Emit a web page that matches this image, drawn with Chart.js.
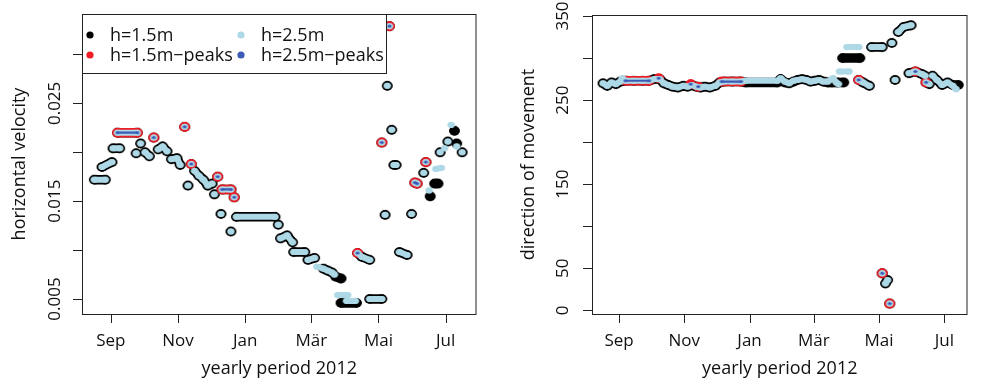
<!DOCTYPE html>
<html>
<head>
<meta charset="utf-8">
<script src="https://cdn.jsdelivr.net/npm/chart.js@4/dist/chart.umd.min.js"></script>
<style>
  body { margin: 0; background: #fff; }
  #wrap { position: relative; width: 981px; height: 382px; overflow: hidden; }
  .panel { position: absolute; top: 0; }
</style>
</head>
<body>
<div id="wrap">
  <div class="panel" style="left:0"><canvas id="chart-1" width="490" height="382"></canvas></div>
  <div class="panel" style="left:500px"><canvas id="chart-2" width="481" height="382"></canvas></div>
</div>
<script>
// x = days since 1 Sep 2011
const monthTicks = [0, 61, 122, 182, 243, 304];
const monthLabels = ["Sep", "Nov", "Jan", "Mär", "Mai", "Jul"];

const velTicks = [0.005, 0.01, 0.015, 0.02, 0.025, 0.03];
const velLabels = ["0.005", "", "0.015", "", "0.025", ""];
const dirTicks = [0, 50, 100, 150, 200, 250, 300, 350];
const dirLabels = ["0", "50", "", "150", "", "250", "", "350"];

const seriesNames = ["h=1.5m", "h=1.5m\u2212peaks", "h=2.5m", "h=2.5m\u2212peaks"];

// horizontal velocity, [day, value], null = gap
const vel15 = [
  [-15, 0.0172], [-5, 0.0172], null,
  [-8, 0.0185], [1, 0.019], null,
  [2, 0.0204], [8, 0.0204], null,
  [6, 0.022], [24, 0.022], null,
  [23, 0.0199], null,
  [27, 0.0209], null,
  [31, 0.02], [35, 0.0196], null,
  [39, 0.0215], null,
  [43, 0.0203], [47, 0.0206], [51, 0.0201], null,
  [55, 0.0193], [60, 0.0194], [63, 0.0187], null,
  [67, 0.0226], null,
  [70, 0.0166], null,
  [73, 0.0188], null,
  [76, 0.0181], [80, 0.0176], [84, 0.0172], [88, 0.0166], [92, 0.0168], null,
  [94, 0.0157], null,
  [97, 0.0175], null,
  [100, 0.0137], null,
  [101, 0.0162], [109, 0.0162], null,
  [109, 0.0119], null,
  [112, 0.0154], null,
  [114, 0.0134], [149, 0.0134], null,
  [152, 0.0126], null,
  [154, 0.0112], [160, 0.0115], [165, 0.0108], null,
  [166, 0.0098], [176, 0.0098], null,
  [179, 0.009], [185, 0.0092], null,
  [193, 0.0081], [197, 0.0079], [201, 0.0077], null,
  [204, 0.0073], [209, 0.0071], null,
  [209, 0.0046], [223, 0.0046], null,
  [224, 0.0097], [228, 0.0093], [235, 0.009], null,
  [235, 0.005], [246, 0.005], null,
  [246, 0.021], null,
  [249, 0.0136], null,
  [251, 0.0268], null,
  [253, 0.0329], null,
  [255, 0.0223], null,
  [257, 0.0187], [259, 0.0187], null,
  [262, 0.0098], [269, 0.0095], null,
  [273, 0.0137], null,
  [276, 0.0169], [278, 0.0168], null,
  [284, 0.0179], null,
  [286, 0.019], null,
  [290, 0.0155], null,
  [294, 0.0168], [297, 0.0168], null,
  [299, 0.02], null,
  [306, 0.0211], null,
  [312, 0.0222], null,
  [314, 0.0209], null,
  [319, 0.02]
];
const vel25 = [
  [-15, 0.0172], [-5, 0.0172], null,
  [-8, 0.0185], [1, 0.019], null,
  [2, 0.0204], [8, 0.0204], null,
  [6, 0.022], [24, 0.022], null,
  [23, 0.0199], null,
  [27, 0.0209], null,
  [31, 0.02], [35, 0.0196], null,
  [39, 0.0215], null,
  [43, 0.0203], [47, 0.0206], [51, 0.0201], null,
  [55, 0.0193], [60, 0.0194], [63, 0.0187], null,
  [67, 0.0226], null,
  [70, 0.0166], null,
  [73, 0.0188], null,
  [76, 0.0181], [80, 0.0176], [84, 0.0172], [88, 0.0166], [92, 0.0168], null,
  [94, 0.0157], null,
  [97, 0.0175], null,
  [100, 0.0137], null,
  [101, 0.0162], [109, 0.0162], null,
  [109, 0.0119], null,
  [112, 0.0154], null,
  [114, 0.0134], [149, 0.0134], null,
  [152, 0.0126], null,
  [154, 0.0112], [160, 0.0115], [165, 0.0108], null,
  [166, 0.0098], [176, 0.0098], null,
  [179, 0.009], [185, 0.0092], null,
  [187, 0.0083], [193, 0.0081], [197, 0.0079], [201, 0.0077], null,
  [203, 0.0075], null,
  [206, 0.0054], [215, 0.0054], null,
  [214, 0.0048], [222, 0.0048], null,
  [224, 0.0097], [228, 0.0093], [235, 0.009], null,
  [235, 0.005], [246, 0.005], null,
  [246, 0.021], null,
  [249, 0.0136], null,
  [251, 0.0268], null,
  [253, 0.0329], null,
  [255, 0.0223], null,
  [257, 0.0187], [259, 0.0187], null,
  [262, 0.0098], [269, 0.0095], null,
  [273, 0.0137], null,
  [276, 0.0169], [278, 0.0168], null,
  [284, 0.0179], null,
  [286, 0.019], null,
  [289, 0.0161], null,
  [295, 0.0183], [300, 0.0184], null,
  [299, 0.02], null,
  [303, 0.0204], null,
  [306, 0.0211], null,
  [309, 0.0228], null,
  [314, 0.0206], null,
  [319, 0.02]
];
const velPeaks15 = [
  [6, 0.022], [24, 0.022], null,
  [39, 0.0215], null,
  [67, 0.0226], null,
  [73, 0.0188], null,
  [97, 0.0175], null,
  [101, 0.0162], [109, 0.0162], null,
  [112, 0.0154], null,
  [224, 0.0097], null,
  [246, 0.021], null,
  [253, 0.0329], null,
  [276, 0.0169], [278, 0.0168], null,
  [286, 0.019]
];
const velPeaks25 = [
  [6, 0.022], [24, 0.022], null,
  [39, 0.0215], null,
  [67, 0.0226], null,
  [73, 0.0188], null,
  [97, 0.0175], null,
  [101, 0.0162], [109, 0.0162], null,
  [112, 0.0154], null,
  [224, 0.0097], null,
  [246, 0.021], null,
  [253, 0.0329], null,
  [276, 0.0169], [278, 0.0168], null,
  [286, 0.019]
];

// direction of movement
const dir15 = [
  [-15, 270], [-11, 267], [-7, 271], [-3, 269], [1, 272], [6, 273], [14, 273], [22, 273], [28, 273],
  [33, 275], [38, 275], [42, 270], [46, 268], [50, 266], [55, 265], [60, 267], [64, 266], [68, 268],
  [72, 266], [76, 265], [80, 266], [85, 265], [90, 267], [94, 271], [98, 272], [106, 272], [114, 272],
  [118, 271], [148, 271], [151, 275], [155, 271], [159, 270], [163, 272], [167, 274], [171, 275],
  [175, 274], [179, 272], [183, 273], [187, 274], [191, 272], [195, 271], [199, 271], [204, 271], [210, 271], null,
  [209, 300], [225, 300], null,
  [224, 274], [228, 271], [234, 267], null,
  [236, 313], [246, 313], null,
  [246, 44], null,
  [249, 32], [251, 36], null,
  [253, 8], null,
  [255, 318], null,
  [258, 274], null,
  [261, 331], [266, 337], [273, 339], null,
  [271, 282], [277, 284], [283, 281], [286, 279], null,
  [287, 271], [290, 269], null,
  [293, 279], [297, 274], [302, 268], [307, 271], [312, 268], [317, 268]
];
const dir25 = [
  [-15, 270], [-11, 267], [-7, 271], [-3, 269], [1, 272], [3, 276], [6, 273], [14, 273], [22, 273], [28, 273],
  [33, 275], [38, 275], [42, 270], [46, 268], [50, 266], [55, 265], [60, 267], [64, 266], [68, 268],
  [72, 266], [76, 265], [80, 266], [85, 265], [90, 267], [94, 271], [98, 272], [106, 272], [114, 272],
  [118, 273], [148, 273], [151, 276], [155, 272], [159, 270], [163, 273], [167, 274], [171, 275],
  [175, 274], [179, 272], [183, 273], [187, 274], [191, 272], [195, 272], [200, 276], [203, 271], [205, 269], null,
  [206, 284], [215, 284], null,
  [213, 313], [224, 313], null,
  [224, 274], [228, 271], [234, 267], null,
  [236, 313], [246, 313], null,
  [246, 44], null,
  [249, 32], [251, 36], null,
  [253, 8], null,
  [255, 318], null,
  [258, 274], null,
  [261, 331], [266, 337], [273, 339], null,
  [271, 282], [277, 284], [283, 281], [286, 279], null,
  [287, 271], [290, 269], null,
  [293, 279], [297, 274], [302, 268], [307, 271], [312, 267], [315, 263]
];
const dirPeaks15 = [
  [6, 273], [28, 273], null,
  [37, 276], null,
  [67, 269], null,
  [74, 266], null,
  [96, 272], [114, 272], null,
  [224, 274], null,
  [246, 44], null,
  [253, 8], null,
  [277, 284], null,
  [287, 271]
];
const dirPeaks25 = [
  [6, 273], [28, 273], null,
  [37, 276], null,
  [67, 269], null,
  [74, 266], null,
  [96, 272], [114, 272], null,
  [224, 274], null,
  [246, 44], null,
  [253, 8], null,
  [277, 284], null,
  [287, 271]
];

const FONT = '"Open Sans", "DejaVu Sans", sans-serif';
const colBlack = "#000000";
const colRed = "#ee1c25";
const colLight = "#add8e6";
const colBlue = "#3b5bb5";

// R draws the dots a bit wider than tall, so use small ellipse images
function dotImage(color, w, h) {
  const c = document.createElement("canvas");
  c.width = Math.ceil(w) + 2;
  c.height = Math.ceil(h) + 2;
  const g = c.getContext("2d");
  g.fillStyle = color;
  g.beginPath();
  g.ellipse(c.width / 2, c.height / 2, w / 2, h / 2, 0, 0, Math.PI * 2);
  g.fill();
  return c;
}
const dotBlack = dotImage(colBlack, 11, 9.5);
const dotRed = dotImage(colRed, 11, 9.5);
const dotLight = dotImage(colLight, 7.5, 6);
const dotBlue = dotImage(colBlue, 4.5, 2.4);

function toXY(arr) {
  let lastX = 0;
  return arr.map(function (p) {
    if (p === null) return { x: lastX, y: null };
    lastX = p[0];
    return { x: p[0], y: p[1] };
  });
}

function series(arr, color, img, width, order) {
  return {
    data: toXY(arr),
    showLine: true,
    spanGaps: false,
    borderColor: color,
    backgroundColor: color,
    borderWidth: width,
    borderCapStyle: "round",
    borderJoinStyle: "round",
    pointStyle: img,
    pointRadius: 4,
    order: order,
  };
}

const frame = {
  id: "frame",
  afterDraw(chart, args, o) {
    const { ctx, chartArea: a } = chart;
    const x = chart.scales.x;
    const y = chart.scales.y;
    ctx.save();
    ctx.strokeStyle = "#222";
    ctx.fillStyle = "#111";
    ctx.lineWidth = 1;
    ctx.strokeRect(a.left + 0.5, a.top + 0.5, a.right - a.left - 1, a.bottom - a.top);

    // x axis
    ctx.beginPath();
    monthTicks.forEach(function (d) {
      const px = Math.round(x.getPixelForValue(d)) + 0.5;
      ctx.moveTo(px, a.bottom);
      ctx.lineTo(px, a.bottom + 9);
    });
    ctx.stroke();
    ctx.font = "17px " + FONT;
    ctx.textAlign = "center";
    ctx.textBaseline = "middle";
    monthTicks.forEach(function (d, i) {
      ctx.fillText(monthLabels[i], x.getPixelForValue(d), a.bottom + 27);
    });
    ctx.font = "18px " + FONT;
    ctx.fillText("yearly period 2012", (a.left + a.right) / 2, a.bottom + 55);

    // y axis
    ctx.beginPath();
    o.yTicks.forEach(function (v) {
      const py = Math.round(y.getPixelForValue(v)) + 0.5;
      ctx.moveTo(a.left, py);
      ctx.lineTo(a.left - 9, py);
    });
    ctx.stroke();
    ctx.font = "17px " + FONT;
    o.yTicks.forEach(function (v, i) {
      if (!o.yLabels[i]) return;
      ctx.save();
      ctx.translate(a.left - o.labelGap, y.getPixelForValue(v));
      ctx.rotate(-Math.PI / 2);
      ctx.fillText(o.yLabels[i], 0, 0);
      ctx.restore();
    });
    ctx.font = "18px " + FONT;
    ctx.save();
    ctx.translate(a.left - o.titleGap, (a.top + a.bottom) / 2);
    ctx.rotate(-Math.PI / 2);
    ctx.fillText(o.yTitle, 0, 0);
    ctx.restore();

    // legend
    if (o.legend) {
      const lx = a.left, ly = a.top, lw = 304, lh = 59;
      ctx.fillStyle = "#fff";
      ctx.fillRect(lx, ly, lw, lh);
      ctx.strokeRect(lx + 0.5, ly + 0.5, lw, lh);
      const cols = [colBlack, colRed, colLight, colBlue];
      const pos = [[8, 21], [8, 41], [159, 21], [159, 41]];
      ctx.font = "18px " + FONT;
      ctx.textAlign = "left";
      seriesNames.forEach(function (name, i) {
        ctx.fillStyle = cols[i];
        ctx.beginPath();
        ctx.arc(lx + pos[i][0], ly + pos[i][1], 3.6, 0, Math.PI * 2);
        ctx.fill();
        ctx.fillStyle = "#111";
        ctx.fillText(name, lx + pos[i][0] + 20, ly + pos[i][1] + 1);
      });
    }
    ctx.restore();
  },
};

function baseOptions(pad, xMin, xMax, yMin, yMax, frameOpts) {
  return {
    responsive: false,
    animation: false,
    layout: { padding: pad },
    scales: {
      x: { type: "linear", display: false, min: xMin, max: xMax },
      y: { type: "linear", display: false, min: yMin, max: yMax },
    },
    plugins: {
      legend: { display: false },
      tooltip: { enabled: false },
      frame: frameOpts,
    },
  };
}

const ctx_1 = document.getElementById("chart-1");
const ctx_2 = document.getElementById("chart-2");

new Chart(ctx_1, {
  type: "scatter",
  data: {
    datasets: [
      series(vel15, colBlack, dotBlack, 9.5, 3),
      series(velPeaks15, colRed, dotRed, 9.5, 2),
      series(vel25, colLight, dotLight, 6, 1),
      series(velPeaks25, colBlue, dotBlue, 2.2, 0),
    ],
  },
  options: baseOptions(
    { left: 82, right: 11, top: 14, bottom: 68 },
    -26.2, 332, 0.003464, 0.03414,
    { yTicks: velTicks, yLabels: velLabels, yTitle: "horizontal velocity", labelGap: 27, titleGap: 62, legend: true }
  ),
  plugins: [frame],
});

new Chart(ctx_2, {
  type: "scatter",
  data: {
    datasets: [
      series(dir15, colBlack, dotBlack, 9.5, 3),
      series(dirPeaks15, colRed, dotRed, 9.5, 2),
      series(dir25, colLight, dotLight, 6, 1),
      series(dirPeaks25, colBlue, dotBlue, 2.2, 0),
    ],
  },
  options: baseOptions(
    { left: 92, right: 0, top: 15, bottom: 68 },
    -25.3, 325.7, -4.4, 351.2,
    { yTicks: dirTicks, yLabels: dirLabels, yTitle: "direction of movement", labelGap: 29, titleGap: 63, legend: false }
  ),
  plugins: [frame],
});
</script>
</body>
</html>
